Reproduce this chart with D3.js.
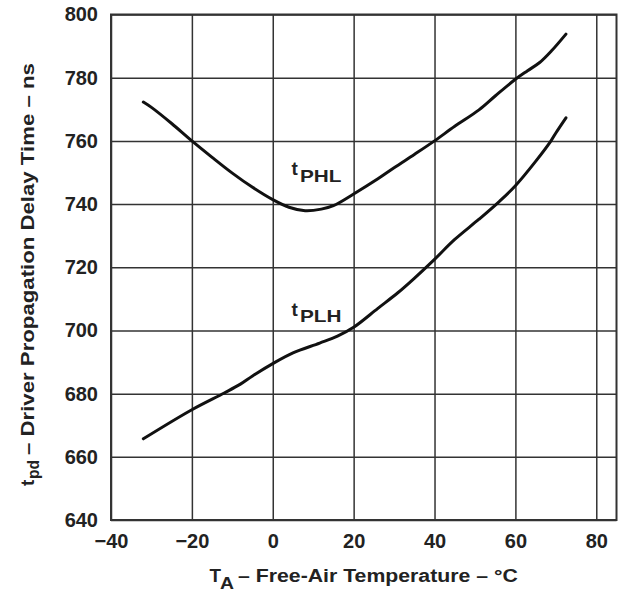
<!DOCTYPE html>
<html>
<head>
<meta charset="utf-8">
<script src="https://cdn.jsdelivr.net/npm/d3@7"></script>
<style>
  body { margin: 0; background: #fff; }
  svg text { font-family: "Liberation Sans", Arial, sans-serif; font-weight: bold; fill: #222; }
</style>
</head>
<body>
<div id="chart"></div>
<script>
// temperatures (degC) and delay (ns)
var phlTemp = [-32, -30, -25, -20, -15, -10, -5, 0, 4, 8, 12, 15, 20, 26, 30, 35, 40, 45, 51, 55, 60, 63, 66, 69, 72.5];
var phlDelay = [772.3, 770.6, 765.5, 760, 754.8, 749.8, 745.3, 741.4, 739, 737.9, 738.4, 739.5, 743.2, 748, 751.5, 755.7, 760, 764.6, 769.8, 774.2, 779.5, 782.2, 784.8, 788.6, 793.8];

var plhTemp = [-32, -20, -12, -8, -5, 0, 5, 11.6, 16, 20, 26, 31, 35, 40, 45, 51, 56, 60, 65, 68.8, 70, 72.5];
var plhDelay = [665.7, 674.9, 680.2, 683, 685.6, 689.5, 692.9, 696, 698.2, 701, 707, 712, 716.5, 722.5, 728.8, 735.2, 740.8, 745.8, 753.5, 760, 762.5, 767.3];

var xTicks = [-40, -20, 0, 20, 40, 60, 80];
var yTicks = [640, 660, 680, 700, 720, 740, 760, 780, 800];

var width = 620, height = 591;
var plotLeft = 111, plotRight = 616.5, plotTop = 14.5, plotBottom = 520;

var svg = d3.select("#chart").append("svg").attr("width", width).attr("height", height);

var x = d3.scaleLinear().domain([-40, 85]).range([plotLeft, plotRight]);
var y = d3.scaleLinear().domain([640, 800]).range([plotBottom, plotTop]);

// grid + tick labels
svg.append("g")
    .attr("transform", "translate(0," + plotBottom + ")")
    .call(d3.axisBottom(x).tickValues(xTicks).tickSize(-(plotBottom - plotTop)).tickPadding(14).tickFormat(d3.format("d")))
    .call(function(g) {
        g.select(".domain").remove();
        g.selectAll("line").attr("stroke", "#333").attr("stroke-width", 1.5);
        g.selectAll("text").attr("font-size", 20).attr("fill", "#222").attr("font-family", null);
    });

svg.append("g")
    .attr("transform", "translate(" + plotLeft + ",0)")
    .call(d3.axisLeft(y).tickValues(yTicks).tickSize(-(plotRight - plotLeft)).tickPadding(13))
    .call(function(g) {
        g.select(".domain").remove();
        g.selectAll("line").attr("stroke", "#333").attr("stroke-width", 1.5);
        g.selectAll("text").attr("font-size", 20).attr("fill", "#222").attr("font-family", null);
    });

svg.append("rect")
    .attr("x", plotLeft).attr("y", plotTop)
    .attr("width", plotRight - plotLeft).attr("height", plotBottom - plotTop)
    .attr("fill", "none").attr("stroke", "#333").attr("stroke-width", 2);

var line = d3.line()
    .x(function(d) { return x(d[0]); })
    .y(function(d) { return y(d[1]); })
    .curve(d3.curveCatmullRom);

svg.append("path").attr("d", line(d3.zip(phlTemp, phlDelay)))
    .attr("fill", "none").attr("stroke", "#111").attr("stroke-width", 3).attr("stroke-linecap", "round");
svg.append("path").attr("d", line(d3.zip(plhTemp, plhDelay)))
    .attr("fill", "none").attr("stroke", "#111").attr("stroke-width", 3).attr("stroke-linecap", "round");

// text piece, stretched horizontally to a measured width
function piece(parent, px, py, size, str, len) {
    var t = parent.append("text").attr("font-size", size).text(str);
    var k = 1;
    if (len) k = len / t.node().getComputedTextLength();
    t.attr("transform", "translate(" + px + "," + py + ") scale(" + k + ",1)");
    return t;
}

// curve labels
piece(svg, 291.5, 175, 19, "t");
piece(svg, 300, 181.7, 16.5, "PHL", 41.5);
piece(svg, 291.5, 316.3, 19, "t");
piece(svg, 300, 322, 16.5, "PLH", 41.5);

// x title
piece(svg, 209.5, 581.7, 19, "T", 11.5);
piece(svg, 220, 588.5, 17, "A", 14);
piece(svg, 238, 581.7, 19, "\u2013 Free-Air Temperature \u2013 \u00b0C", 280);

// y title (rotated, reads bottom to top)
var yg = svg.append("g").attr("transform", "translate(34,486) rotate(-90)");
piece(yg, 0, 0, 19, "t");
piece(yg, 7, 4.5, 17, "pd", 19);
piece(yg, 31, 0, 19, "\u2013 Driver Propagation Delay Time \u2013 ns", 392);
</script>
</body>
</html>
